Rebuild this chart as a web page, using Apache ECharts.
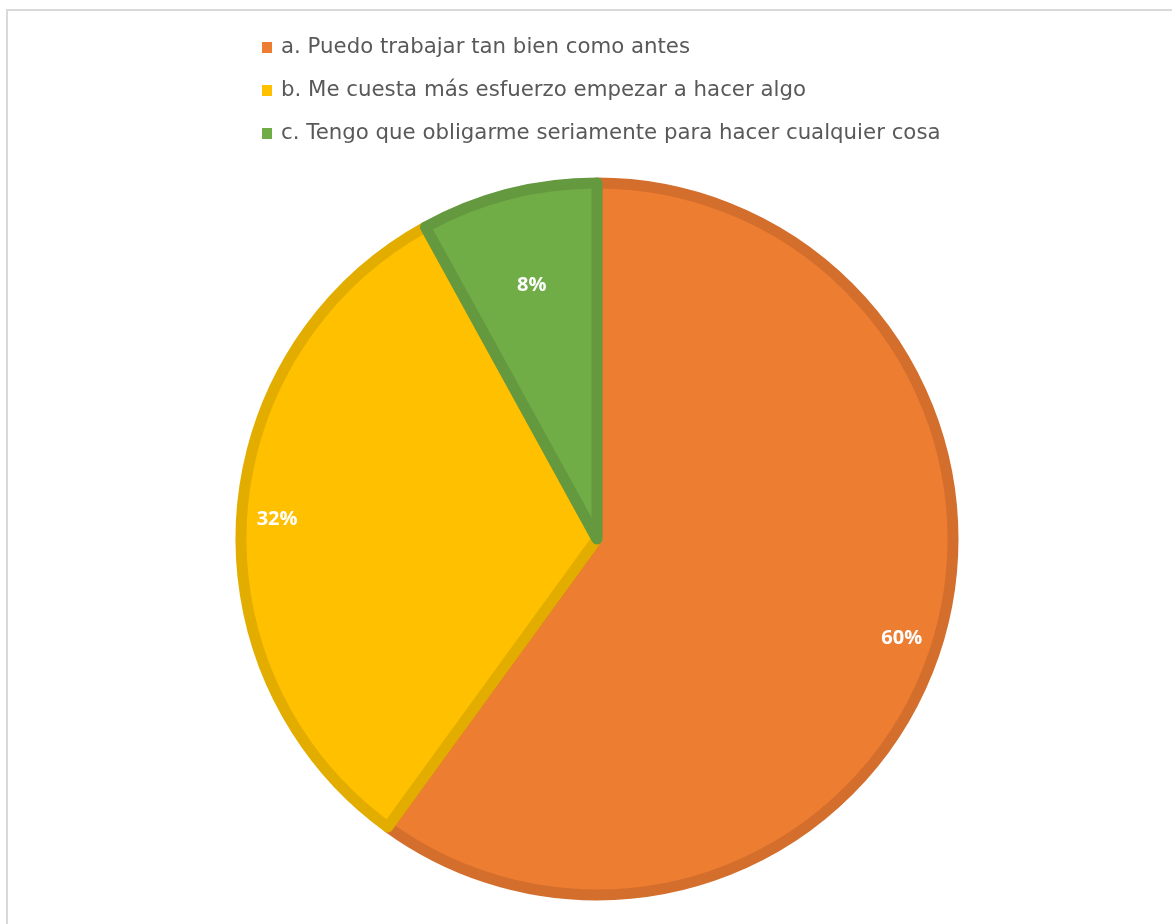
<!DOCTYPE html>
<html>
<head>
<meta charset="utf-8">
<script src="https://cdn.jsdelivr.net/npm/echarts@6/dist/echarts.min.js"></script>
<style>
html,body{margin:0;padding:0;background:#fff;}
#chart{width:1172px;height:924px;}
</style>
</head>
<body>
<div id="chart"></div>
<script>
const categories = [
  'a. Puedo trabajar tan bien como antes',
  'b. Me cuesta más esfuerzo empezar a hacer algo',
  'c. Tengo que obligarme seriamente para hacer cualquier cosa'
];
const values = [60, 32, 8];
const fillColors = ['#ED7D31', '#FFC000', '#70AD47'];
const borderColors = ['#D46E2C', '#E3AD00', '#64993F'];

const chart = echarts.init(document.getElementById('chart'));
const center = [597, 539];
const labelStyle = {
  color: '#ffffff',
  fontFamily: 'Open Sans',
  fontWeight: 'bold',
  fontSize: 20,
  formatter: '{c}%'
};
function labelSeries(r0, showIdx) {
  return {
    type: 'pie',
    center: center,
    radius: [r0, 358],
    silent: true,
    startAngle: 90,
    clockwise: true,
    z: 5,
    itemStyle: { color: 'transparent', borderWidth: 0 },
    labelLine: { show: false },
    emphasis: { disabled: true },
    data: categories.map((n, i) => ({
      name: n, value: values[i],
      label: Object.assign({ show: showIdx.includes(i), position: 'inside' }, labelStyle)
    }))
  };
}
chart.setOption({
  animation: false,
  backgroundColor: '#ffffff',
  graphic: [{
    type: 'rect',
    shape: { x: 7, y: 10, width: 1300, height: 1000 },
    style: { fill: 'none', stroke: '#d9d9d9', lineWidth: 2 },
    silent: true
  }],
  legend: {
    orient: 'vertical',
    left: 257,
    top: 32,
    itemWidth: 10,
    itemHeight: 11,
    itemGap: 22,
    icon: 'rect',
    selectedMode: false,
    textStyle: { color: '#595959', fontSize: 21.3, lineHeight: 21, fontFamily: 'DejaVu Sans', padding: [0, 0, 0, 4] },
    data: categories.map((n, i) => ({ name: n, itemStyle: { color: fillColors[i], borderWidth: 0 } }))
  },
  series: [
    {
      type: 'pie',
      center: center,
      radius: [0, 356],
      startAngle: 90,
      clockwise: true,
      silent: true,
      label: { show: false },
      labelLine: { show: false },
      data: categories.map((n, i) => ({
        name: n, value: values[i],
        itemStyle: { color: fillColors[i], borderColor: borderColors[i], borderWidth: 11 }
      }))
    },
    labelSeries(277, [0, 1]),
    labelSeries(160, [2])
  ]
});
</script>
</body>
</html>
